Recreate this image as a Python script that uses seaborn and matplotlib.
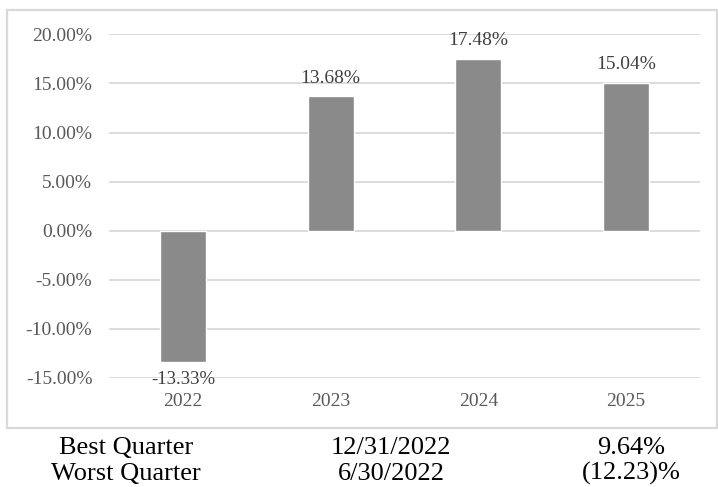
import matplotlib
matplotlib.use("Agg")
import matplotlib.pyplot as plt
import seaborn as sns
import pandas as pd
from matplotlib.patches import Rectangle

# data
years = ["2022", "2023", "2024", "2025"]
returns = [-13.33, 13.68, 17.48, 15.04]
value_labels = ["-13.33%", "13.68%", "17.48%", "15.04%"]
y_ticks = [-15, -10, -5, 0, 5, 10, 15, 20]

table_rows = ["Best Quarter", "Worst Quarter"]
table_dates = ["12/31/2022", "6/30/2022"]
table_values = ["9.64%", "(12.23)%"]

sns.set_style("white")
plt.rcParams["font.family"] = ["Liberation Serif", "DejaVu Serif"]

W, H = 718, 487
fig = plt.figure(figsize=(W / 100, H / 100), dpi=100)

# plot area in pixels: x 109..700, y 34..378
ax = fig.add_axes([109 / W, (H - 378) / H, (700 - 109) / W, (378 - 34.3) / H])

df = pd.DataFrame({"year": years, "ret": returns})
sns.barplot(data=df, x="year", y="ret", color="#8a8a8a", saturation=1,
            width=0.31, ax=ax, zorder=3)

ax.set_ylim(-15, 20)
ax.set_xlim(-0.5, len(years) - 0.5)
ax.set_yticks(y_ticks)
ax.set_yticklabels([f"{t:.2f}%" for t in y_ticks])
ax.set_xlabel("")
ax.set_ylabel("")
ax.yaxis.grid(True, color="#d9d9d9", linewidth=1.3, zorder=0)
ax.set_axisbelow(True)
for s in ax.spines.values():
    s.set_visible(False)
ax.tick_params(axis="y", length=0, pad=12, labelsize=14, labelcolor="#595959")
ax.tick_params(axis="x", length=0, pad=11, labelsize=14, labelcolor="#595959")

# value labels above / below the bars
for i, (v, lab) in enumerate(zip(returns, value_labels)):
    if v >= 0:
        ax.annotate(lab, (i, v), xytext=(0, 7), textcoords="offset points",
                    ha="center", va="bottom", fontsize=14, color="#404040")
    else:
        ax.annotate(lab, (i, v), xytext=(0, -7), textcoords="offset points",
                    ha="center", va="top", fontsize=13.5, color="#404040")

# outer frame around the chart
fig.patches.append(Rectangle((7 / W, (H - 428) / H), (717 - 7) / W, (428 - 10) / H,
                             transform=fig.transFigure, fill=False,
                             edgecolor="#d9d9d9", linewidth=1.6))

# best / worst quarter table under the chart
col_x = [126, 391, 631]
row_y = [454, 480]
for r in range(2):
    for txt, cx in zip([table_rows[r], table_dates[r], table_values[r]], col_x):
        fig.text(cx / W, (H - row_y[r]) / H, txt, ha="center", va="baseline",
                 fontsize=19, color="black")

fig.savefig("out.png", dpi=100)
